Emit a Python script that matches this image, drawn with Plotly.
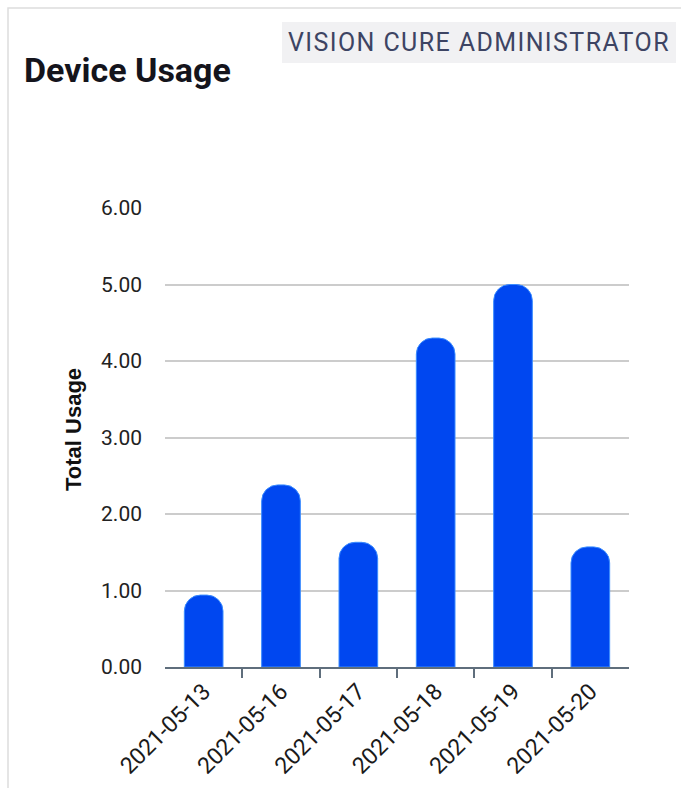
import plotly.graph_objects as go

dates = ["2021-05-13", "2021-05-16", "2021-05-17", "2021-05-18", "2021-05-19", "2021-05-20"]
usage = [0.94, 2.38, 1.63, 4.30, 5.00, 1.57]
y_ticks = [0, 1, 2, 3, 4, 5, 6]
y_tick_text = ["0.00", "1.00", "2.00", "3.00", "4.00", "5.00", "6.00"]
boundaries = [0.5, 1.5, 2.5, 3.5, 4.5]

W, H = 681, 788
L, R, T, B = 165, 52, 208, 121
pw, ph = W - L - R, H - T - B

def px(x):
    return (x - L) / pw

def py(y):
    return (H - B - y) / ph

fig = go.Figure()
fig.add_trace(go.Bar(
    x=list(range(len(dates))), y=usage,
    marker=dict(color="#0047F0", cornerradius=16, line=dict(color="#3a8cff", width=1)),
    width=0.5, hoverinfo="skip", showlegend=False,
))
# invisible trace to drive the boundary tick axis
fig.add_trace(go.Scatter(x=[-0.5, 5.5], y=[0, 0], xaxis="x2", mode="markers",
                         marker=dict(opacity=0), showlegend=False, hoverinfo="skip"))

fig.update_layout(
    width=W, height=H,
    margin=dict(l=L, r=R, t=T, b=B, autoexpand=False),
    paper_bgcolor="white", plot_bgcolor="white",
    font=dict(family="Roboto", color="#222222"),
    xaxis=dict(
        range=[-0.5, 5.5], tickmode="array", tickvals=list(range(len(dates))),
        ticktext=dates, tickangle=-45, ticks="", showgrid=False, zeroline=False,
        showline=True, linecolor="#5f6e7c", linewidth=2, automargin=False,
        tickfont=dict(size=23, color="#1a1a1a", family="Roboto"),
    ),
    xaxis2=dict(
        overlaying="x", anchor="y", side="bottom", range=[-0.5, 5.5],
        tickmode="array", tickvals=boundaries, showticklabels=False,
        ticks="outside", ticklen=10, tickwidth=1.5, tickcolor="#5f6e7c",
        showgrid=False, zeroline=False, showline=False, automargin=False,
    ),
    yaxis=dict(
        range=[0, 6], tickmode="array", tickvals=y_ticks, ticktext=y_tick_text,
        showgrid=True, gridcolor="#cccccc", gridwidth=1.5, zeroline=False,
        ticks="", ticklabelstandoff=22, automargin=False,
        tickfont=dict(size=21, color="#222222", family="Roboto"),
    ),
    shapes=[
        dict(type="rect", xref="paper", yref="paper",
             x0=px(8), x1=px(700), y0=py(810), y1=py(8),
             line=dict(color="#dddddd", width=1.5), fillcolor="rgba(0,0,0,0)", layer="below"),
        dict(type="rect", xref="paper", yref="paper",
             x0=px(282), x1=px(676), y0=py(63), y1=py(22),
             line=dict(width=0), fillcolor="#f1f1f3", layer="below"),
    ],
    annotations=[
        dict(text="<b>Device Usage</b>", xref="paper", yref="paper",
             x=px(22), y=py(70), xanchor="left", yanchor="middle", showarrow=False,
             font=dict(size=34, color="#14141c", family="Roboto")),
        dict(text="<span style='letter-spacing:1.4px'>VISION CURE ADMINISTRATOR</span>",
             xref="paper", yref="paper",
             x=px(479), y=py(42), xanchor="center", yanchor="middle", showarrow=False,
             font=dict(size=25, color="#3d4463", family="Roboto")),
        dict(text="<b>Total Usage</b>", xref="paper", yref="paper",
             x=px(73), y=py(430), xanchor="center", yanchor="middle", showarrow=False,
             textangle=-90, font=dict(size=22, color="#111111", family="Arial")),
    ],
)

fig.write_html("out.html")
